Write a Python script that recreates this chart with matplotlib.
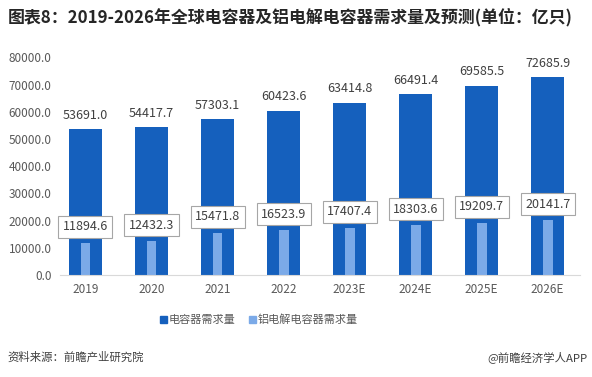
import matplotlib
matplotlib.use("Agg")
import matplotlib.pyplot as plt
from matplotlib.patches import Patch

plt.rcParams['font.family'] = ['Noto Sans CJK SC', 'DejaVu Sans']

years = ["2019", "2020", "2021", "2022", "2023E", "2024E", "2025E", "2026E"]
total_demand = [53691.0, 54417.7, 57303.1, 60423.6, 63414.8, 66491.4, 69585.5, 72685.9]
alu_demand = [11894.6, 12432.3, 15471.8, 16523.9, 17407.4, 18303.6, 19209.7, 20141.7]
yticks = [0, 10000, 20000, 30000, 40000, 50000, 60000, 70000, 80000]

W, H = 592, 377
fig = plt.figure(figsize=(W / 100, H / 100), dpi=100)
left, right = 60, 580
ax = fig.add_axes([left / W, (H - 275) / H, (right - left) / W, (275 - 57.5) / H])

dark = "#1560BD"
light = "#7BAAE8"
x = list(range(len(years)))
ax.bar(x, total_demand, width=0.5, color=dark, zorder=2)
ax.bar(x, alu_demand, width=0.15, color=light, zorder=3)

for i, v in enumerate(total_demand):
    ax.annotate(f"{v:.1f}", (i, v), xytext=(0, 10), textcoords="offset points",
                ha="center", va="center", fontsize=9, color="#404040")
for i, v in enumerate(alu_demand):
    ax.annotate(f"{v:.1f}", (i, v), xytext=(0, 11.5), textcoords="offset points",
                ha="center", va="center", fontsize=9, color="#404040", zorder=5,
                bbox=dict(boxstyle="square,pad=0.35", fc="white", ec="#A6A6A6", lw=0.8))

ax.set_xlim(-0.386, 7.49)
ax.set_ylim(0, 80000)
ax.set_yticks(yticks)
ax.set_yticklabels([f"{t:.1f}" for t in yticks], fontsize=8.5, color="#595959")
ax.set_xticks(x)
ax.set_xticklabels(years, fontsize=8.5, color="#595959")
ax.tick_params(length=0, pad=6)
for s in ["top", "right", "left"]:
    ax.spines[s].set_visible(False)
ax.spines["bottom"].set_color("#D9D9D9")
ax.spines["bottom"].set_zorder(4)

handles = [Patch(color=dark, label="电容器需求量"), Patch(color=light, label="铝电解电容器需求量")]
fig.legend(handles=handles, loc="center", bbox_to_anchor=(259 / W, (H - 320) / H), ncol=2,
           frameon=False, fontsize=8, handlelength=0.6, handleheight=0.6, handletextpad=0.2,
           columnspacing=1.2, labelcolor="#595959")

fig.text(8 / W, (H - 17) / H, "图表8：2019-2026年全球电容器及铝电解电容器需求量及预测(单位：亿只)",
         fontsize=12.2, fontweight="bold", color="#262626", va="center", ha="left")
fig.text(7 / W, (H - 357) / H, "资料来源：前瞻产业研究院", fontsize=8.2, color="#404040",
         va="center", ha="left")
fig.text(588 / W, (H - 357) / H, "@前瞻经济学人APP", fontsize=8.2, color="#404040",
         va="center", ha="right")

fig.savefig("out.png", dpi=100)
